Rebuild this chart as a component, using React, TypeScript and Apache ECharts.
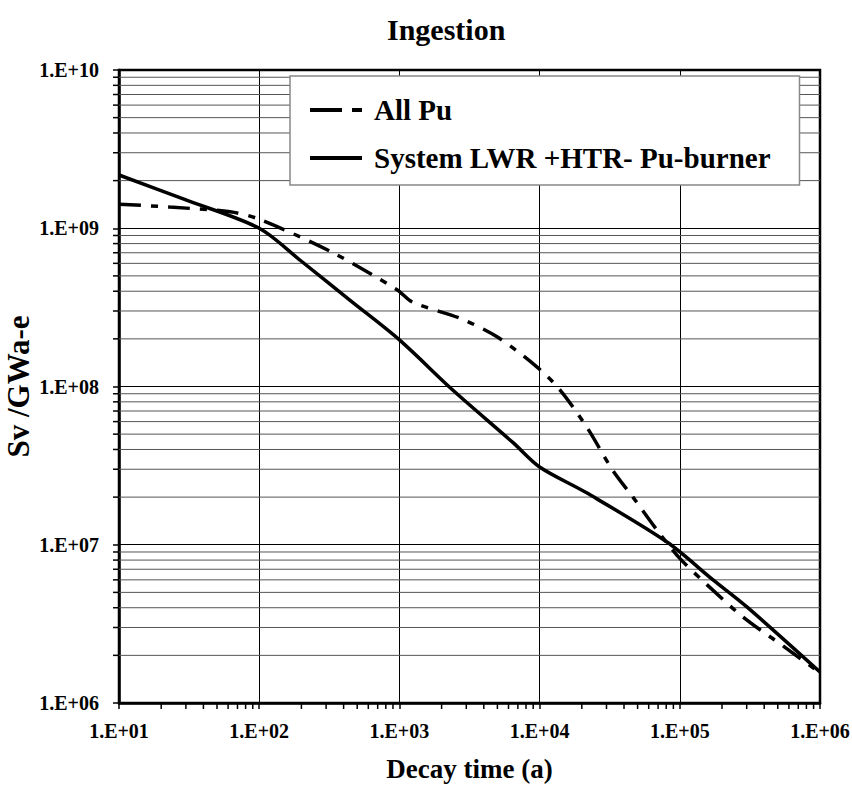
import React, { useEffect, useRef } from "react";
import * as echarts from "echarts";

// Decay time (years) and ingestion radiotoxicity (Sv per GWa-e)
const allPuTime = [10, 23, 62, 100, 336, 955, 1250, 2700, 4970, 9550, 14000, 21800, 33100, 46300, 68700, 100000, 156000, 282000, 582000, 1000000];
const allPuDose = [1.42e9, 1.36e9, 1.27e9, 1.14e9, 7.0e8, 4.1e8, 3.4e8, 2.7e8, 2.06e8, 1.33e8, 9.5e7, 5.5e7, 2.97e7, 2.0e7, 1.24e7, 8.2e6, 5.6e6, 3.5e6, 2.2e6, 1.55e6];

const systemTime = [10, 30, 100, 195, 445, 1000, 2400, 6500, 10000, 21800, 81000, 172600, 301000, 1000000];
const systemDose = [2.17e9, 1.51e9, 1.0e9, 6.3e8, 3.5e8, 1.97e8, 9.5e7, 4.4e7, 3.1e7, 2.12e7, 1.04e7, 6.0e6, 4.05e6, 1.57e6];

const seriesNames = ["All Pu", "System LWR +HTR- Pu-burner"];

// Axis ranges and log-decade subdivisions
const X_MIN = 10;
const X_MAX = 1e6;
const Y_MIN = 1e6;
const Y_MAX = 1e10;
const minorMultipliers = [2, 3, 4, 5, 6, 7, 8, 9];
const xDecades = [1e1, 1e2, 1e3, 1e4, 1e5];
const yDecades = [1e6, 1e7, 1e8, 1e9];

const xMinorTicks = xDecades.flatMap((d) => minorMultipliers.map((m) => m * d));
const yMinorTicks = yDecades.flatMap((d) => minorMultipliers.map((m) => m * d));

const FONT = "Liberation Serif";

// legend swatches: a long dash followed by a short one, and a plain bar
const DASH_ICON = "path://M0,0h32v4h-32z M42,0h8v4h-8z M50,0h2v4h-2z";
const SOLID_ICON = "path://M0,0h52v4h-52z";

const expLabel = (v: number) => {
  const e = Math.round(Math.log10(v));
  return "1.E" + (e >= 0 ? "+" : "-") + String(Math.abs(e)).padStart(2, "0");
};

export default function App() {
  const ref = useRef<HTMLDivElement>(null);

  useEffect(() => {
    if (!ref.current) return;
    const chart = echarts.init(ref.current, undefined, { renderer: "svg" });

    chart.setOption({
      animation: false,
      backgroundColor: "#fff",
      textStyle: { fontFamily: FONT },
      title: {
        text: "Ingestion",
        left: 382,
        top: 9,
        textStyle: { fontFamily: FONT, fontWeight: "bold", fontSize: 30, color: "#000" },
      },
      legend: {
        data: [
          { name: seriesNames[0], icon: DASH_ICON },
          { name: seriesNames[1], icon: SOLID_ICON },
        ],
        orient: "vertical",
        left: 290,
        top: 76,
        padding: [19, 29, 12, 20],
        itemWidth: 52,
        itemHeight: 4,
        itemGap: 18,
        backgroundColor: "#fff",
        borderColor: "#888",
        borderWidth: 1.5,
        borderRadius: 0,
        z: 10,
        itemStyle: { color: "#000", borderWidth: 0 },
        lineStyle: { width: 0 },
        textStyle: {
          fontFamily: FONT,
          fontWeight: "bold",
          fontSize: 29,
          color: "#000",
          lineHeight: 30,
          padding: [0, 0, 0, 7],
        },
      },
      grid: {
        left: 119,
        top: 70,
        right: 32,
        bottom: 84,
        containLabel: false,
        outerBoundsMode: "none",
        show: true,
        borderColor: "#000",
        borderWidth: 2.5,
        backgroundColor: "#fff",
      },
      xAxis: {
        type: "log",
        logBase: 10,
        min: X_MIN,
        max: X_MAX,
        name: "Decay time (a)",
        nameLocation: "middle",
        nameGap: 52,
        nameMoveOverlap: false,
        nameTextStyle: { fontFamily: FONT, fontWeight: "bold", fontSize: 27, color: "#000" },
        axisLine: { show: true, lineStyle: { color: "#000", width: 2.5 } },
        axisTick: { show: true, inside: false, length: 6, lineStyle: { color: "#000", width: 1.5 } },
        axisLabel: {
          margin: 18,
          formatter: expLabel,
          fontFamily: FONT,
          fontWeight: "bold",
          fontSize: 20,
          color: "#000",
        },
        splitLine: { show: true, lineStyle: { color: "#000", width: 1 } },
      },
      yAxis: {
        type: "log",
        logBase: 10,
        min: Y_MIN,
        max: Y_MAX,
        name: "Sv /GWa-e",
        nameLocation: "middle",
        nameGap: 85,
        nameMoveOverlap: false,
        nameRotate: 90,
        nameTextStyle: { fontFamily: FONT, fontWeight: "bold", fontSize: 31, color: "#000" },
        axisLine: { show: true, lineStyle: { color: "#000", width: 2.5 } },
        axisTick: { show: true, inside: false, length: 6, lineStyle: { color: "#000", width: 1.5 } },
        axisLabel: {
          margin: 20,
          formatter: expLabel,
          fontFamily: FONT,
          fontWeight: "bold",
          fontSize: 20,
          color: "#000",
        },
        splitLine: { show: true, lineStyle: { color: "#000", width: 1 } },
      },
      series: [
        {
          // minor horizontal grid lines with their outward ticks on the y axis
          type: "custom",
          silent: true,
          z: 1,
          clip: false,
          data: yMinorTicks.map((v) => [X_MIN, v]),
          encode: { x: 0, y: 1 },
          renderItem: (_params: any, api: any) => {
            const v = api.value(1);
            const a = api.coord([X_MIN, v]);
            const b = api.coord([X_MAX, v]);
            return {
              type: "group",
              children: [
                {
                  type: "line",
                  shape: { x1: a[0], y1: a[1], x2: b[0], y2: b[1] },
                  style: { stroke: "#555", lineWidth: 1 },
                },
                {
                  type: "line",
                  shape: { x1: a[0] - 6, y1: a[1], x2: a[0], y2: a[1] },
                  style: { stroke: "#000", lineWidth: 1.5 },
                },
              ],
            };
          },
        },
        {
          // minor ticks below the x axis
          type: "custom",
          silent: true,
          z: 1,
          clip: false,
          data: xMinorTicks.map((v) => [v, Y_MIN]),
          encode: { x: 0, y: 1 },
          renderItem: (_params: any, api: any) => {
            const p = api.coord([api.value(0), Y_MIN]);
            return {
              type: "line",
              shape: { x1: p[0], y1: p[1], x2: p[0], y2: p[1] + 6 },
              style: { stroke: "#000", lineWidth: 1.5 },
            };
          },
        },
        {
          name: seriesNames[0],
          type: "line",
          z: 3,
          smooth: 0.3,
          symbol: "none",
          data: allPuTime.map((t, i) => [t, allPuDose[i]]),
          lineStyle: { color: "#000", width: 3.5, type: [22, 10, 7, 10] },
          itemStyle: { color: "#000" },
        },
        {
          name: seriesNames[1],
          type: "line",
          z: 4,
          smooth: 0.3,
          symbol: "none",
          data: systemTime.map((t, i) => [t, systemDose[i]]),
          lineStyle: { color: "#000", width: 3.5, type: "solid" },
          itemStyle: { color: "#000" },
        },
      ],
    });

    return () => chart.dispose();
  }, []);

  return (
    <div
      ref={ref}
      style={{ position: "fixed", left: 0, top: 0, width: 852, height: 787, background: "#fff" }}
    />
  );
}
